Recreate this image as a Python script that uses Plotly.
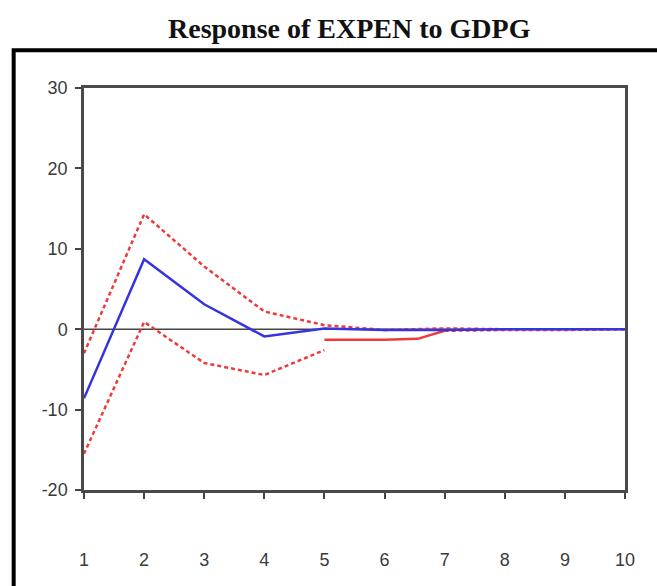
import plotly.graph_objects as go

periods = list(range(1, 11))
response = [-8.6, 8.7, 3.1, -0.9, 0.1, -0.1, -0.1, 0.0, 0.0, 0.0]
upper_band = [-3.0, 14.3, 7.8, 2.2, 0.5, -0.1, 0.1, 0.0, 0.0, 0.0]
lower_x = [1, 2, 3, 4, 5]
lower_band = [-15.5, 0.9, -4.2, -5.7, -2.6]
lower_tail_x = [5.0, 6.0, 6.55, 7.0, 8.0, 9.0, 10.0]
lower_tail = [-1.3, -1.3, -1.2, -0.2, -0.1, -0.1, 0.0]

ytick_vals = [30, 20, 10, 0, -10, -20]
ytick_text = ["30", "20", "10", "0", "-10", "-20"]
xtick_vals = periods

blue = "#3434e0"
red = "#ee3a3a"

fig = go.Figure()
fig.add_trace(go.Scatter(x=periods, y=upper_band, mode="lines",
                         line=dict(color=red, width=2.5, dash="4px,3px")))
fig.add_trace(go.Scatter(x=lower_x, y=lower_band, mode="lines",
                         line=dict(color=red, width=2.5, dash="4px,3px")))
fig.add_trace(go.Scatter(x=lower_tail_x[:4], y=lower_tail[:4], mode="lines",
                         line=dict(color=red, width=2.5)))
fig.add_trace(go.Scatter(x=lower_tail_x[3:], y=lower_tail[3:], mode="lines",
                         line=dict(color=red, width=2.5, dash="4px,3px")))
fig.add_trace(go.Scatter(x=periods, y=response, mode="lines",
                         line=dict(color=blue, width=2.5)))

fig.add_hline(y=0, line=dict(color="#444444", width=1.5), layer="below")

fig.update_layout(
    width=657, height=586,
    margin=dict(l=84, r=32, t=88, b=96),
    paper_bgcolor="white", plot_bgcolor="white",
    showlegend=False,
    font=dict(family="Arial, Liberation Sans, sans-serif", size=18, color="#3a3a3a"),
)
fig.update_xaxes(range=[1, 10], tickvals=xtick_vals, ticks="outside", ticklen=6,
                 tickcolor="#444444", tickwidth=2,
                 showline=True, linecolor="#4a4a4a", linewidth=2.5, mirror=True,
                 showgrid=False, zeroline=False, ticklabelstandoff=46)
fig.update_yaxes(range=[-20, 30], tickvals=ytick_vals, ticktext=ytick_text,
                 ticks="outside", ticklen=6,
                 tickcolor="#444444", tickwidth=2,
                 showline=True, linecolor="#4a4a4a", linewidth=2.5, mirror=True,
                 showgrid=False, zeroline=False, ticklabelstandoff=4)

# outer frame
fig.add_shape(type="rect", xref="paper", yref="paper",
              x0=-0.13, x1=1.2, y0=-0.4, y1=1.094,
              line=dict(color="black", width=4), fillcolor="rgba(0,0,0,0)")

fig.add_annotation(text="<b>Response of EXPEN to GDPG</b>", xref="paper", yref="paper",
                   x=0.49, y=1.149, showarrow=False, yanchor="middle",
                   font=dict(family="Liberation Serif, Times New Roman, serif", size=28, color="#111111"))

fig.write_html("out.html")
